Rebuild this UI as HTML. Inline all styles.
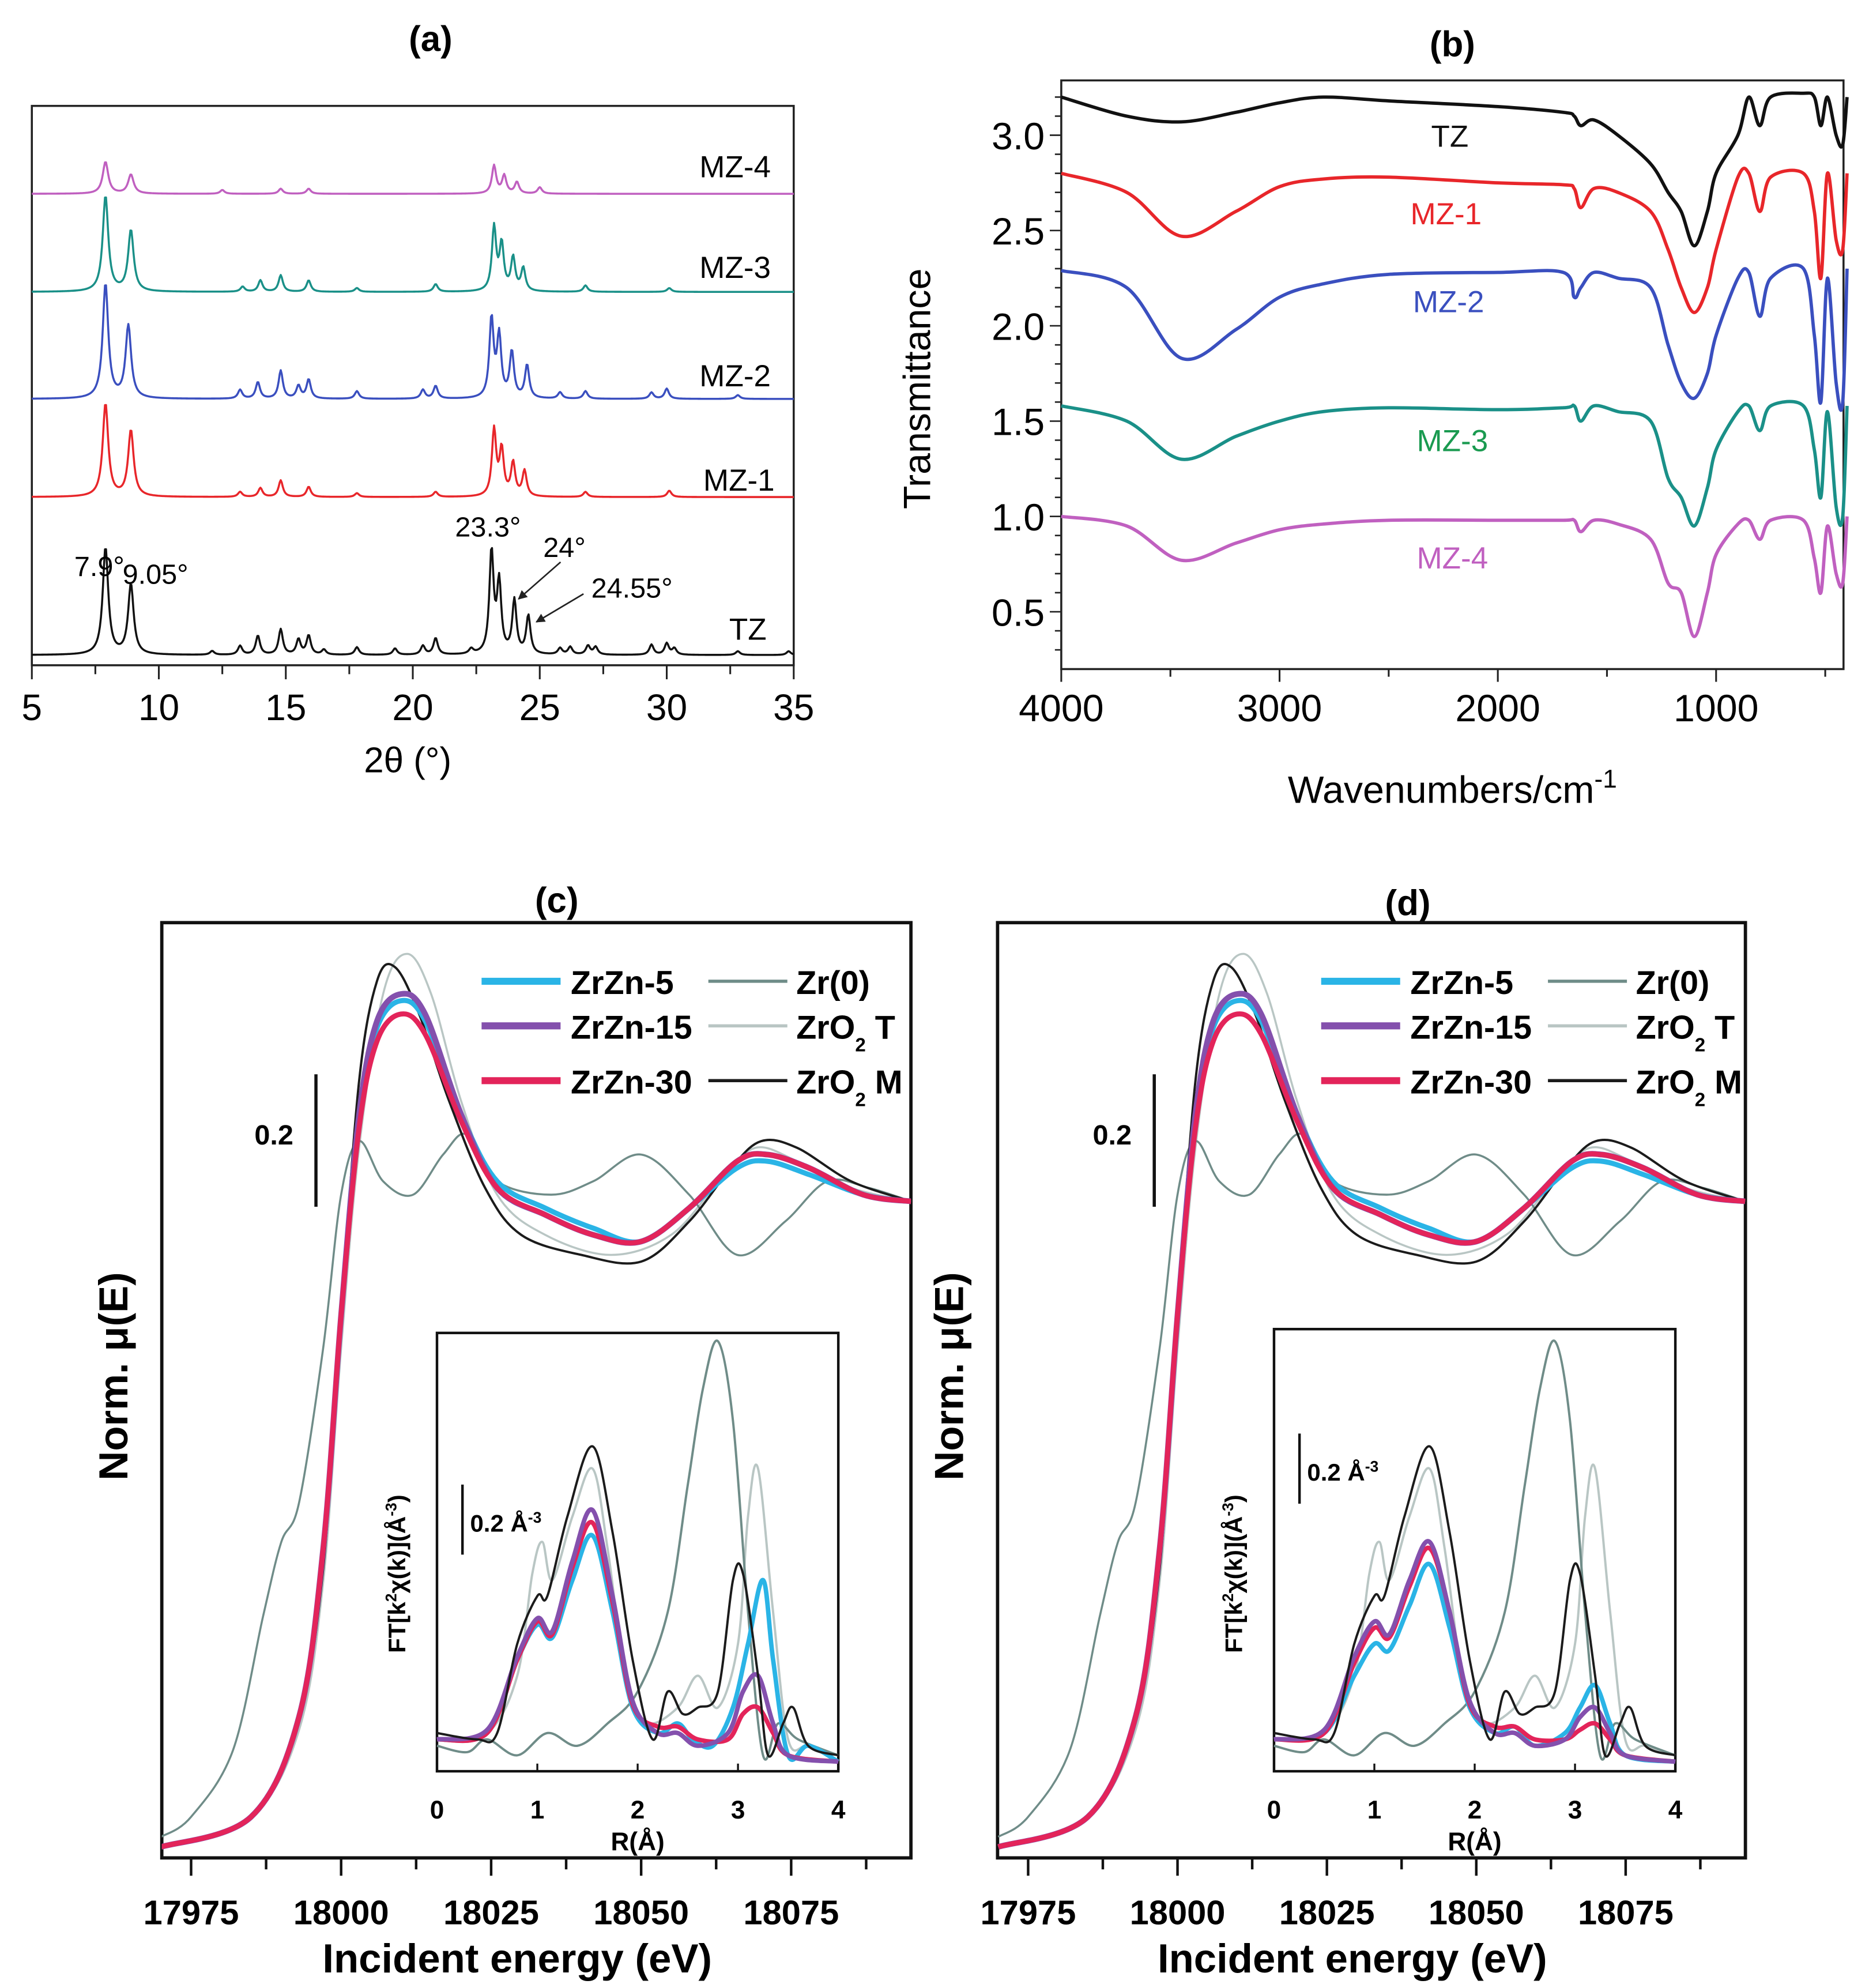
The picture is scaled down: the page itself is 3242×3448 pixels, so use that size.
<!DOCTYPE html>
<html><head><meta charset="utf-8">
<style>
html,body{margin:0;padding:0;background:#fff;}
svg{display:block;}
.t{font-family:"Liberation Sans",sans-serif;}
.b{font-family:"Liberation Sans",sans-serif;font-weight:bold;}
</style></head>
<body>
<svg id="fig" width="3242" height="3448" viewBox="0 0 1467 1560" xmlns="http://www.w3.org/2000/svg">
<rect x="0" y="0" width="1467" height="1560" fill="#fff"/>
<text class="b" x="338" y="40" font-size="28" text-anchor="middle">(a)</text>
<text class="b" x="1140" y="44" font-size="28" text-anchor="middle">(b)</text>
<text class="b" x="437" y="716" font-size="28" text-anchor="middle">(c)</text>
<text class="b" x="1105" y="718" font-size="28" text-anchor="middle">(d)</text>
<text class="t" x="320" y="606" font-size="28" text-anchor="middle">2θ (°)</text>
<text class="t" x="1140" y="630" font-size="30" text-anchor="middle">Wavenumbers/cm<tspan dy="-12" font-size="20">-1</tspan></text>
<text class="t" x="730" y="305" font-size="30" text-anchor="middle" transform="rotate(-90 730 305)">Transmittance</text>
<g id="gA"></g>
<g id="gB"></g>
<g id="gC"></g>
<g id="gD"></g>
</svg>
<script>
// ===== Panel (a) XRD data =====
const xrdSeries = ["TZ","MZ-1","MZ-2","MZ-3","MZ-4"];
const xrdOffsets = [0, 124, 201, 285, 362];
const xrdTZ = [[7.9,84],[8.9,55],[12.1,3],[13.2,7],[13.9,15],[14.8,20],[15.5,12],[15.9,15],[16.5,4],[17.8,6],[19.3,5],[20.4,7],[20.9,13],[22.3,4],[23.1,80],[23.4,55],[24.0,42],[24.55,30],[25.8,5],[26.2,6],[26.9,7],[27.2,6],[29.4,8],[30.0,9],[30.3,5],[32.8,3],[34.8,3]];
const xrdMZ1 = [[7.9,73],[8.9,52],[13.2,4],[14.0,7],[14.8,13],[15.9,8],[17.8,3],[20.9,4],[23.2,52],[23.5,36],[23.95,26],[24.4,20],[26.8,4],[30.1,5]];
const xrdMZ2 = [[7.9,90],[8.8,57],[13.2,7],[13.9,13],[14.8,22],[15.5,10],[15.9,15],[17.8,6],[20.4,7],[20.9,10],[23.1,62],[23.4,48],[23.9,36],[24.5,26],[25.8,5],[26.8,6],[29.4,5],[30.0,8],[32.8,3]];
const xrdMZ3 = [[7.9,75],[8.9,48],[13.3,4],[14.0,9],[14.8,13],[15.9,9],[17.8,3],[20.9,6],[23.2,50],[23.5,36],[23.95,26],[24.35,18],[26.8,5],[30.1,3]];
const xrdMZ4 = [[7.9,25],[8.9,15],[12.5,3],[14.8,4],[15.9,4],[23.2,22],[23.6,14],[24.1,9],[25.0,5]];
const xrdPeaksAll = [xrdTZ,xrdMZ1,xrdMZ2,xrdMZ3,xrdMZ4];
const xrdColors = ["#111","#e8262a","#3a4fbf","#1a9088","#c060c0"];
const xrdTicks = [5,10,15,20,25,30,35];

// ===== Panel (b) FTIR data =====
const irSeries = ["TZ","MZ-1","MZ-2","MZ-3","MZ-4"];
const irWn = [4000,3700,3450,3200,3000,2800,2500,2000,1700,1650,1620,1560,1450,1300,1220,1160,1100,1040,1000,900,850,800,750,600,550,520,490,450,420,400];
const irTZ  = [3.2,3.1,3.07,3.12,3.17,3.2,3.18,3.15,3.12,3.1,3.05,3.08,3.0,2.85,2.7,2.6,2.42,2.6,2.8,3.0,3.2,3.05,3.2,3.22,3.2,3.05,3.2,3.0,2.95,3.2];
const irMZ1 = [2.8,2.7,2.47,2.6,2.73,2.77,2.78,2.75,2.74,2.72,2.62,2.72,2.7,2.6,2.4,2.2,2.07,2.2,2.4,2.78,2.8,2.6,2.78,2.8,2.6,2.25,2.8,2.45,2.4,2.8];
const irMZ2 = [2.29,2.2,1.83,1.98,2.15,2.22,2.27,2.28,2.28,2.15,2.2,2.28,2.25,2.2,1.9,1.7,1.62,1.75,1.95,2.25,2.28,2.05,2.25,2.3,1.95,1.6,2.25,1.7,1.6,2.3];
const irMZ3 = [1.58,1.5,1.3,1.42,1.5,1.55,1.57,1.56,1.57,1.58,1.5,1.58,1.55,1.5,1.2,1.1,0.95,1.15,1.35,1.55,1.58,1.45,1.58,1.58,1.35,1.1,1.55,1.05,1.0,1.58];
const irMZ4 = [1.0,0.95,0.77,0.86,0.93,0.96,0.98,0.98,0.98,0.98,0.92,0.98,0.96,0.88,0.65,0.6,0.37,0.6,0.8,0.96,0.98,0.88,0.98,0.98,0.78,0.6,0.95,0.7,0.65,1.0];
const irAll = [irTZ,irMZ1,irMZ2,irMZ3,irMZ4];
const irColors = ["#111","#e8262a","#3a4fbf","#1a9088","#c060c0"];
const irLabelColors = ["#111","#e8262a","#3a4fbf","#1a9a50","#c060c0"];
const irXTicks = [4000,3000,2000,1000];
const irYTicks = [0.5,1.0,1.5,2.0,2.5,3.0];

// ===== Panels (c),(d) XANES data =====
const xasSeries = ["ZrZn-5","ZrZn-15","ZrZn-30","Zr(0)","ZrO2 T","ZrO2 M"];
const xasColors = ["#2ab4e6","#8450ad","#e3245a","#6f8c88","#b9c6c4","#1b1b1b"];
const xasWidths = [4,4.5,4,1.6,1.6,1.8];
const xasZr0  = [[17970,0.02],[17975,0.05],[17982,0.15],[17987,0.35],[17990,0.46],[17993,0.52],[17997,0.75],[18000,0.98],[18003,1.06],[18007,1.0],[18012,0.98],[18017,1.04],[18021,1.07],[18026,1.0],[18035,0.98],[18042,1.0],[18050,1.04],[18058,0.98],[18066,0.89],[18074,0.94],[18081,1.0],[18088,0.99],[18095,0.97]];
const xasZrO2T = [[17970,0.005],[17985,0.05],[17993,0.18],[17997,0.4],[18000,0.75],[18003,1.05],[18007,1.28],[18011,1.34],[18015,1.28],[18020,1.12],[18026,0.98],[18034,0.92],[18045,0.89],[18055,0.92],[18063,1.0],[18069,1.05],[18076,1.03],[18085,0.99],[18095,0.97]];
const xasZrO2M = [[17970,0.005],[17985,0.05],[17993,0.2],[17997,0.42],[18000,0.8],[18003,1.15],[18006,1.3],[18009,1.32],[18013,1.25],[18018,1.12],[18024,0.99],[18030,0.92],[18040,0.89],[18050,0.88],[18058,0.94],[18065,1.02],[18070,1.06],[18076,1.05],[18085,1.0],[18095,0.97]];
const xasZrZn5  = [[17970,0.005],[17985,0.05],[17993,0.2],[17997,0.45],[18000,0.8],[18003,1.1],[18006,1.23],[18010,1.27],[18014,1.24],[18020,1.1],[18026,1.0],[18034,0.96],[18042,0.93],[18050,0.91],[18058,0.96],[18066,1.02],[18071,1.03],[18078,1.01],[18087,0.98],[18095,0.97]];
const xasZrZn15 = [[17970,0.005],[17985,0.05],[17993,0.2],[17997,0.45],[18000,0.8],[18003,1.1],[18006,1.24],[18010,1.28],[18014,1.25],[18020,1.1],[18026,0.99],[18034,0.95],[18042,0.92],[18050,0.91],[18058,0.96],[18066,1.03],[18071,1.04],[18078,1.02],[18087,0.98],[18095,0.97]];
const xasZrZn30 = [[17970,0.005],[17985,0.05],[17993,0.2],[17997,0.45],[18000,0.8],[18003,1.08],[18006,1.21],[18010,1.25],[18014,1.22],[18020,1.09],[18026,0.99],[18034,0.95],[18042,0.92],[18050,0.91],[18058,0.96],[18066,1.03],[18071,1.04],[18078,1.02],[18087,0.98],[18095,0.97]];
const xasAll = [xasZrZn5,xasZrZn15,xasZrZn30,xasZr0,xasZrO2T,xasZrO2M];
const xasTicks = [17975,18000,18025,18050,18075];
const xasMinor = [17987.5,18012.5,18037.5,18062.5,18087.5];

const ftZr0 = [[0,0.08],[0.3,0.06],[0.5,0.1],[0.8,0.05],[1.1,0.12],[1.4,0.08],[1.7,0.15],[2.0,0.25],[2.3,0.5],[2.5,0.9],[2.65,1.2],[2.8,1.35],[2.95,1.1],[3.1,0.5],[3.25,0.05],[3.4,0.15],[3.6,0.1],[4,0.05]];
const ftZrO2T = [[0,0.1],[0.5,0.12],[0.8,0.3],[0.95,0.62],[1.05,0.72],[1.15,0.6],[1.35,0.8],[1.55,0.95],[1.7,0.7],[1.9,0.25],[2.1,0.15],[2.4,0.2],[2.6,0.3],[2.8,0.2],[3.0,0.4],[3.1,0.8],[3.2,0.95],[3.35,0.5],[3.5,0.1],[3.7,0.08],[4,0.05]];
const ftZrO2M = [[0,0.12],[0.4,0.1],[0.6,0.12],[0.8,0.4],[1.0,0.55],[1.1,0.55],[1.3,0.8],[1.55,1.02],[1.75,0.75],[1.95,0.35],[2.15,0.1],[2.3,0.25],[2.45,0.18],[2.6,0.2],[2.8,0.25],[2.95,0.6],[3.05,0.62],[3.2,0.3],[3.3,0.05],[3.45,0.15],[3.55,0.2],[3.7,0.08],[4,0.05]];
const ftC5  = [[0,0.1],[0.5,0.12],[0.8,0.35],[1.0,0.46],[1.15,0.42],[1.35,0.6],[1.55,0.74],[1.75,0.5],[1.95,0.2],[2.2,0.12],[2.4,0.15],[2.55,0.1],[2.75,0.08],[2.95,0.2],[3.1,0.4],[3.25,0.6],[3.35,0.35],[3.5,0.05],[3.7,0.08],[4,0.03]];
const ftC15 = [[0,0.1],[0.5,0.13],[0.8,0.36],[1.0,0.48],[1.15,0.44],[1.35,0.66],[1.55,0.82],[1.75,0.55],[1.95,0.22],[2.2,0.12],[2.4,0.12],[2.6,0.08],[2.9,0.12],[3.05,0.25],[3.2,0.3],[3.35,0.15],[3.5,0.05],[4,0.03]];
const ftC30 = [[0,0.1],[0.5,0.12],[0.8,0.35],[1.0,0.47],[1.15,0.43],[1.35,0.64],[1.55,0.78],[1.75,0.53],[1.95,0.21],[2.2,0.14],[2.4,0.14],[2.6,0.1],[2.9,0.1],[3.05,0.18],[3.2,0.2],[3.35,0.12],[3.5,0.05],[4,0.03]];
const ftD5  = [[0,0.1],[0.5,0.12],[0.8,0.3],[1.0,0.4],[1.15,0.38],[1.35,0.52],[1.55,0.65],[1.75,0.45],[1.95,0.2],[2.2,0.12],[2.4,0.14],[2.6,0.08],[2.9,0.12],[3.05,0.2],[3.2,0.27],[3.35,0.15],[3.5,0.05],[4,0.03]];
const ftD15 = [[0,0.1],[0.5,0.13],[0.8,0.36],[1.0,0.47],[1.15,0.43],[1.35,0.6],[1.55,0.72],[1.75,0.5],[1.95,0.22],[2.2,0.12],[2.4,0.12],[2.6,0.08],[2.9,0.1],[3.05,0.17],[3.2,0.2],[3.35,0.12],[3.5,0.05],[4,0.03]];
const ftD30 = [[0,0.1],[0.5,0.12],[0.8,0.34],[1.0,0.45],[1.15,0.42],[1.35,0.58],[1.55,0.7],[1.75,0.5],[1.95,0.21],[2.2,0.14],[2.4,0.14],[2.6,0.1],[2.9,0.1],[3.05,0.13],[3.2,0.15],[3.35,0.1],[3.5,0.05],[4,0.03]];
const ftTicks = [0,1,2,3,4];

const NS = "http://www.w3.org/2000/svg";
function mk(parent, tag, attrs){ const e=document.createElementNS(NS,tag); for(const k in attrs) e.setAttribute(k,attrs[k]); parent.appendChild(e); return e; }
function smooth(pts){
  let d="M"+pts[0][0].toFixed(2)+","+pts[0][1].toFixed(2);
  for(let i=0;i<pts.length-1;i++){
    const p0=pts[Math.max(0,i-1)],p1=pts[i],p2=pts[i+1],p3=pts[Math.min(pts.length-1,i+2)];
    const c1x=p1[0]+(p2[0]-p0[0])/6,c1y=p1[1]+(p2[1]-p0[1])/6,c2x=p2[0]-(p3[0]-p1[0])/6,c2y=p2[1]-(p3[1]-p1[1])/6;
    d+=" C"+c1x.toFixed(2)+","+c1y.toFixed(2)+" "+c2x.toFixed(2)+","+c2y.toFixed(2)+" "+p2[0].toFixed(2)+","+p2[1].toFixed(2);
  }
  return d;
}

// ---------- Panel A ----------
(function(){
  const g=document.getElementById("gA");
  const L=25,R=623,T=83,B=522;
  const xs=v=>L+(v-5)*(R-L)/30;
  const base=514;
  let r=mk(g,"rect",{x:L,y:T,width:R-L,height:B-T,fill:"none",stroke:"#222","stroke-width":1.6});
   
  for(let v=5;v<=35;v+=2.5){
    const major=(v%5===0);
    const t=mk(g,"line",{x1:xs(v),x2:xs(v),y1:B,y2:B+(major?11:7),stroke:"#222","stroke-width":1.4});
     
  }
  xrdTicks.forEach(v=>{
    const t=mk(g,"text",{x:xs(v),y:565,"font-size":29,"text-anchor":"middle",class:"t"}); t.textContent=v;
     
  });
  xrdPeaksAll.forEach((pk,si)=>{
    const b=base-xrdOffsets[si];
    let d="";
    for(let x=5;x<=35.0001;x+=0.04){
      let y=0;
      pk.forEach(p=>{const w=p[0]<12?0.13:0.1; const u=(x-p[0])/w; y+=p[1]/(1+u*u);});
      d+=(d?" L":"M")+xs(x).toFixed(2)+","+(b-y).toFixed(2);
    }
    const p=mk(g,"path",{d:d,fill:"none",stroke:xrdColors[si],"stroke-width":1.6,"stroke-linejoin":"round"});
     
  });
  const labs=[["TZ",587,502],["MZ-1",580,385],["MZ-2",577,303],["MZ-3",577,218],["MZ-4",577,139]];
  labs.forEach(l=>{const t=mk(g,"text",{x:l[1],y:l[2],"font-size":24,"text-anchor":"middle",class:"t"});t.textContent=l[0];
     });
  const ann=[["7.9°",78,452],["9.05°",122,458],["23.3°",383,421],["24°",443,437],["24.55°",496,469]];
  ann.forEach(a=>{const t=mk(g,"text",{x:a[1],y:a[2],"font-size":22,"text-anchor":"middle",class:"t"});t.textContent=a[0];
     });
  mk(g,"defs",{}).innerHTML='<marker id="arr" viewBox="0 0 10 10" refX="9" refY="5" markerWidth="6" markerHeight="6" orient="auto"><path d="M0,0 L10,5 L0,10 z" fill="#222"/></marker>';
  [[440,441,407,470],[458,466,421,488]].forEach(a=>{const l=mk(g,"line",{x1:a[0],y1:a[1],x2:a[2],y2:a[3],stroke:"#222","stroke-width":1.2,"marker-end":"url(#arr)"});
     });
})();

// ---------- Panel B ----------
(function(){
  const g=document.getElementById("gB");
  const L=833,R=1447,T=63,B=525;
  const xs=w=>833+(4000-w)*171.33/1000;
  const ys=v=>106+(3.0-v)*149.6;
  const fr=mk(g,"rect",{x:L,y:T,width:R-L,height:B-T,fill:"none",stroke:"#222","stroke-width":1.6});
   
  for(let w=4000;w>=500;w-=500){const major=(w%1000===0);
    const t=mk(g,"line",{x1:xs(w),x2:xs(w),y1:B,y2:B+(major?10:6),stroke:"#222","stroke-width":1.4});
     }
  irXTicks.forEach(w=>{const t=mk(g,"text",{x:xs(w),y:566,"font-size":30,"text-anchor":"middle",class:"t"});t.textContent=w;
     });
  for(let v=0.3;v<=3.25;v+=0.1){const major=Math.abs(v*2-Math.round(v*2))<0.01;
    const t=mk(g,"line",{x1:L,x2:L-(major?9:5),y1:ys(v),y2:ys(v),stroke:"#222","stroke-width":1.2});
     }
  irYTicks.forEach(v=>{const t=mk(g,"text",{x:820,y:ys(v)+11,"font-size":30,"text-anchor":"end",class:"t"});t.textContent=v.toFixed(1);
     });
  irAll.forEach((vals,si)=>{
    const pts=irWn.map((w,i)=>[xs(w),ys(vals[i])]);
    const p=mk(g,"path",{d:smooth(pts),fill:"none",stroke:irColors[si],"stroke-width":2.6,"stroke-linejoin":"round"});
     
  });
  const labs=[[1138,115],[1135,176],[1137,245],[1140,354],[1140,446]];
  labs.forEach((l,i)=>{const t=mk(g,"text",{x:l[0],y:l[1],"font-size":24,"text-anchor":"middle",class:"t",fill:irLabelColors[i]});t.textContent=irSeries[i];
     });
})();

// ---------- Panels C, D ----------
function xanes(gid, cfg, fts){
  const g=document.getElementById(gid);
  const L=cfg.L,R=cfg.R,T=724,B=1458;
  const xs=e=>cfg.x0+(e-17975)*cfg.sc;
  const ys=v=>1452-v*525;
  const fr=mk(g,"rect",{x:L,y:T,width:R-L,height:B-T,fill:"none",stroke:"#111","stroke-width":2.6});
   
  xasTicks.forEach(e=>{const t=mk(g,"line",{x1:xs(e),x2:xs(e),y1:B,y2:B+14,stroke:"#111","stroke-width":2});
     
    const tl=mk(g,"text",{x:xs(e),y:1510,"font-size":27,"text-anchor":"middle",class:"b"});tl.textContent=e;
     });
  xasMinor.forEach(e=>{const t=mk(g,"line",{x1:xs(e),x2:xs(e),y1:B,y2:B+9,stroke:"#111","stroke-width":2});
     });
  const xl=mk(g,"text",{x:(L+R)/2-15,y:1548,"font-size":32,"text-anchor":"middle",class:"b"});xl.textContent="Incident energy (eV)";
   
  const yl=mk(g,"text",{x:L-27,y:1080,"font-size":32,"text-anchor":"middle",class:"b",transform:"rotate(-90 "+(L-27)+" 1080)"});yl.textContent="Norm. μ(E)";
   
  const sb=mk(g,"line",{x1:cfg.bar,x2:cfg.bar,y1:843,y2:947,stroke:"#111","stroke-width":2.5});
   
  const st=mk(g,"text",{x:cfg.bar-33,y:898,"font-size":22,"text-anchor":"middle",class:"b"});st.textContent="0.2";
   
  mk(g,"clipPath",{id:"clip"+gid}).innerHTML='<rect x="'+L+'" y="'+T+'" width="'+(R-L)+'" height="'+(B-T)+'"/>';
  [4,3,5,0,1,2].forEach(si=>{
    const pts=xasAll[si].map(p=>[xs(p[0]),ys(p[1])]);
    const cl=mk(g,"path",{d:smooth(pts),fill:"none",stroke:xasColors[si],"stroke-width":xasWidths[si],"clip-path":"url(#clip"+gid+")"});
     
  });
  const lx=cfg.leg, ly=[770,805,848];
  for(let i=0;i<3;i++){
    const l1=mk(g,"line",{x1:lx,x2:lx+62,y1:ly[i],y2:ly[i],stroke:xasColors[i],"stroke-width":5.5});
     
    const t1=mk(g,"text",{x:lx+70,y:ly[i]+10,"font-size":26,class:"b"});t1.textContent=xasSeries[i];
     
    const l2=mk(g,"line",{x1:lx+178,x2:lx+240,y1:ly[i],y2:ly[i],stroke:xasColors[i+3],"stroke-width":2.5});
     
    const t2=mk(g,"text",{x:lx+247,y:ly[i]+10,"font-size":26,class:"b"});
    if(i===0) t2.textContent="Zr(0)";
    else t2.innerHTML='ZrO<tspan font-size="15" dy="10">2</tspan><tspan dy="-10"> '+(i===1?"T":"M")+'</tspan>';
     
  }
  const iL=cfg.iL,iR=cfg.iR,iT=cfg.iT,iB=1390;
  const ix=r=>iL+r*(iR-iL)/4, iy=v=>iB-v*250;
  const ib=mk(g,"rect",{x:iL,y:iT,width:iR-iL,height:iB-iT,fill:"#fff",stroke:"#111","stroke-width":2});
   
  const order=[[4,ftZrO2T],[3,ftZr0],[0,fts[0]],[2,fts[2]],[1,fts[1]],[5,ftZrO2M]];
  order.forEach(o=>{const si=o[0];
    const pts=o[1].map(p=>[ix(p[0]),iy(p[1])]);
    const p=mk(g,"path",{d:smooth(pts),fill:"none",stroke:xasColors[si],"stroke-width":si<3?3.5:1.8});
     });
  ftTicks.forEach(r=>{const t=mk(g,"line",{x1:ix(r),x2:ix(r),y1:iB,y2:iB-6,stroke:"#111","stroke-width":1.5});
     
    const tl=mk(g,"text",{x:ix(r),y:1427,"font-size":20,"text-anchor":"middle",class:"b"});tl.textContent=r;
     });
  const rx=mk(g,"text",{x:ix(2),y:1452,"font-size":20,"text-anchor":"middle",class:"b"});rx.textContent="R(Å)";
   
  const ry=mk(g,"text",{x:iL-25,y:1235,"font-size":19,"text-anchor":"middle",class:"b",transform:"rotate(-90 "+(iL-25)+" 1235)"});
  ry.innerHTML='FT[k<tspan font-size="12" dy="-7">2</tspan><tspan dy="7">χ(k)](Å</tspan><tspan font-size="12" dy="-7">-3</tspan><tspan dy="7">)</tspan>';
   
  const ibar=mk(g,"line",{x1:iL+20,x2:iL+20,y1:cfg.ibT,y2:cfg.ibT+55,stroke:"#111","stroke-width":2});
   
  const ibt=mk(g,"text",{x:iL+26,y:cfg.ibT+37,"font-size":19,class:"b"});
  ibt.innerHTML='0.2 Å<tspan font-size="12" dy="-7">-3</tspan>';
   
}
xanes("gC",{p:"panel-c",L:127,R:715,x0:150,sc:4.71,bar:248,leg:378,iL:343,iR:658,iT:1046,ibT:1165},[ftC5,ftC15,ftC30]);
xanes("gD",{p:"panel-d",L:783,R:1370,x0:807,sc:4.69,bar:906,leg:1037,iL:1000,iR:1315,iT:1043,ibT:1125},[ftD5,ftD15,ftD30]);
</script>
</body></html>
